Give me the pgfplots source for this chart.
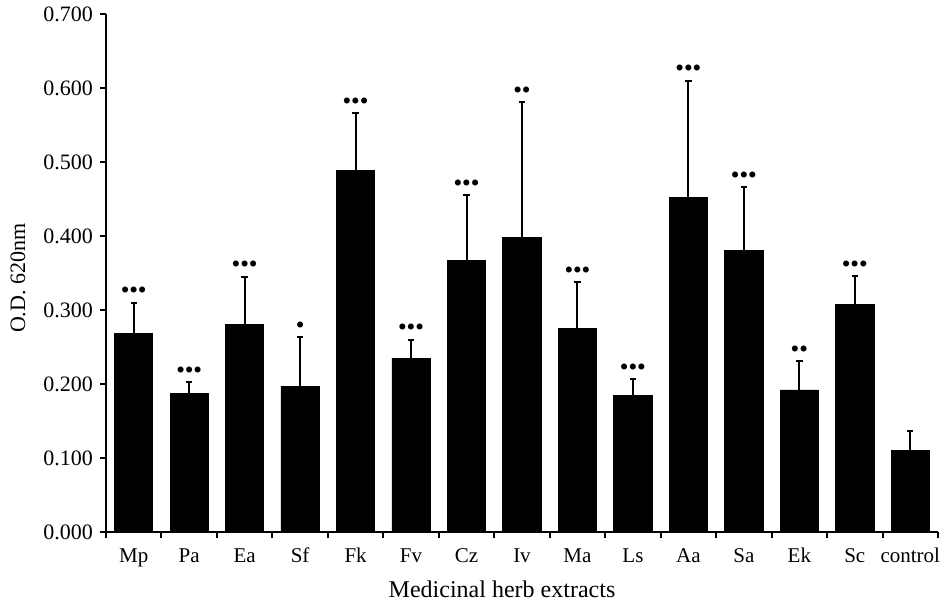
\documentclass[border=0pt]{standalone}
\usepackage{pgfplots}
\pgfplotsset{compat=1.18}
\usepackage{pgfplotstable}
\usepackage{fontspec}
\setmainfont{Liberation Serif}
\newcommand\dt{\hbox to 4.3pt{\hss$\bullet$\hss}}
\newcommand\stars[1]{\ifcase#1\or\dt\or\dt\dt\or\dt\dt\dt\fi}
\pgfplotstableread{
x  val   err   top   sig
0  0.268 0.042 0.310 3
1  0.187 0.016 0.203 3
2  0.280 0.065 0.345 3
3  0.197 0.066 0.263 1
4  0.488 0.078 0.566 3
5  0.235 0.025 0.260 3
6  0.367 0.088 0.455 3
7  0.398 0.183 0.581 2
8  0.275 0.063 0.338 3
9  0.184 0.023 0.207 3
10 0.452 0.158 0.610 3
11 0.380 0.086 0.466 3
12 0.192 0.039 0.231 2
13 0.308 0.038 0.346 3
14 0.110 0.026 0.136 0
}\datatable
\begin{document}
\begin{tikzpicture}
\useasboundingbox (-53pt,-35pt) rectangle (420.5pt,266pt);
\begin{axis}[
  at={(0,0)}, anchor=south west,
  scale only axis, width=416pt, height=259pt,
  xmin=-0.5, xmax=14.5, ymin=0, ymax=0.7,
  axis x line=bottom, axis y line=left,
  axis line style={-, line width=1pt},
  every tick/.style={black, line width=1pt},
  tick align=outside,
  xtick={0,...,14},
  xticklabels={Mp,Pa,Ea,Sf,Fk,Fv,Cz,Iv,Ma,Ls,Aa,Sa,Ek,Sc,control},
  major x tick style={draw=none},
  minor xtick={-0.5,0.5,...,14.5},
  minor tick length=3pt,
  major tick length=3pt,
  xticklabel style={anchor=base, yshift=-12pt, font=\fontsize{10.5}{12}\selectfont},
  ytick={0,0.1,...,0.7},
  yticklabel style={font=\fontsize{11}{13}\selectfont},
  /pgf/number format/.cd, fixed, fixed zerofill, precision=3, assume math mode=true,
  /pgfplots/.cd,
  ylabel={O.D. 620nm},
  ylabel style={at={(axis description cs:-0.1058,0.49)}, anchor=center, font=\fontsize{11}{13}\selectfont},
  xlabel={Medicinal herb extracts},
  xlabel style={at={(axis description cs:0.476,-0.11)}, anchor=center, font=\fontsize{12}{14}\selectfont},
  clip=false,
]
\addplot[ybar, bar width=0.69, fill=black, draw=black,
  error bars/.cd, y dir=plus, y explicit,
  error bar style={line width=1pt, black},
  error mark options={line width=1pt, mark size=1.6pt, rotate=90}]
  table[x=x, y=val, y error=err] {\datatable};
\addplot[draw=none, mark=none, nodes near coords={\fontsize{7.5}{8}\selectfont\stars{\pgfplotspointmeta}},
  point meta=explicit symbolic,
  every node near coord/.style={anchor=center, inner sep=0pt, yshift=6pt}]
  table[x=x, y=top, meta=sig] {\datatable};
\end{axis}
\end{tikzpicture}
\end{document}
